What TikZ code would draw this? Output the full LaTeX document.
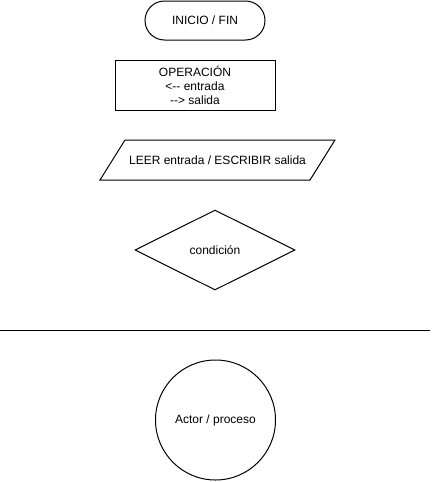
\documentclass[tikz,border=0pt]{standalone}
\usepackage{fontspec}
\setmainfont{Liberation Sans}
\usetikzlibrary{shapes.geometric}
\begin{document}
\begin{tikzpicture}[x=1pt,y=-1pt,
  every node/.style={font=\fontsize{12}{14}\selectfont, line width=1pt, inner sep=0pt, align=center},
  shp/.style={draw, line width=1pt}]
\useasboundingbox (0,0) rectangle (433,482);
\node[shp, rounded corners=19.5pt, minimum width=120pt, minimum height=39pt] (ini) at (205,20.5) {INICIO / FIN};
\node[shp, minimum width=160pt, minimum height=50pt] (op) at (195,85) {OPERACIÓN\\<-{}- entrada\\-{}-> salida};
\draw[shp] (125,140) coordinate (p1) -- (335,140) coordinate (p2) -- (310,180) coordinate (p3) -- (100,180) coordinate (p4) -- cycle;
\node (io) at (217.5,160) {LEER entrada / ESCRIBIR salida};
\node[shp, diamond, aspect=2, minimum width=160pt, minimum height=80pt] (cond) at (215,250) {condición};
\draw[line width=1pt] (0,330) coordinate (l1) -- (430,330) coordinate (l2);
\node[shp, circle, minimum size=120pt] (act) at (215.5,420) {Actor / proceso};
\end{tikzpicture}
\end{document}
